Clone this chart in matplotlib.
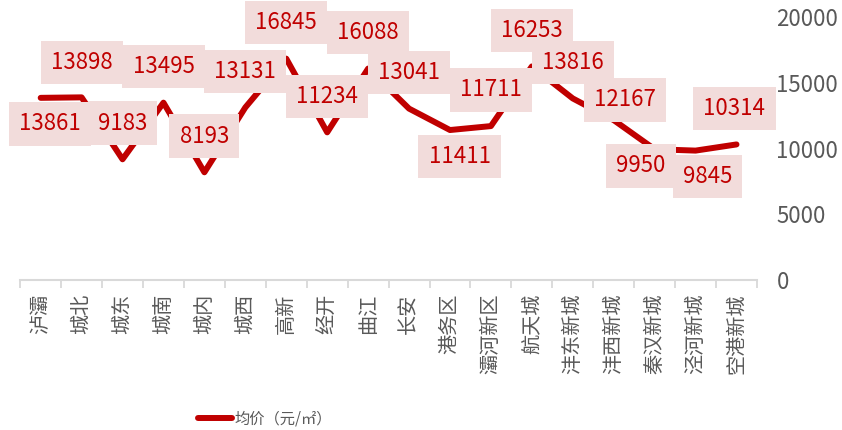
import matplotlib
matplotlib.use("Agg")
import matplotlib.pyplot as plt
from matplotlib.ticker import FixedLocator

plt.rcParams['font.family'] = ['Noto Sans CJK SC', 'DejaVu Sans']

# data
districts = ["泸灞", "城北", "城东", "城南", "城内", "城西", "高新", "经开", "曲江",
             "长安", "港务区", "灞河新区", "航天城", "沣东新城", "沣西新城", "秦汉新城",
             "泾河新城", "空港新城"]
avg_price = [13861, 13898, 9183, 13495, 8193, 13131, 16845, 11234, 16088,
             13041, 11411, 11711, 16253, 13816, 12167, 9950, 9845, 10314]
series_name = "均价（元/㎡）"
y_ticks = [0, 5000, 10000, 15000, 20000]

# label offsets (points) relative to each point
up = (0, 26)
label_offsets = [(6.5, -18.7), (0, 25), up, up, up, up, up, up, up, up,
                 (7, -19), up, up, up, (8, 14.5), (-10, -12), (8.6, -18.7), (-1.5, 26)]

red = "#C00000"
gray = "#595959"

fig = plt.figure(figsize=(8.42, 4.30), dpi=100)
ax = fig.add_axes([0.024, 0.349, 0.875, 0.611])

x = list(range(len(districts)))
line, = ax.plot(x, avg_price, color=red, lw=4.3, solid_joinstyle='round',
                solid_capstyle='round', label=series_name, zorder=2)

for xi, v, off in zip(x, avg_price, label_offsets):
    ax.annotate(str(v), (xi, v), xytext=off, textcoords='offset points',
                ha='center', va='center', fontsize=16, color=red, zorder=3,
                bbox=dict(boxstyle='square,pad=0.46', fc='#F2DCDB', ec='none'))

ax.set_xlim(-0.5, len(districts) - 0.5)
ax.set_ylim(0, 20000)
ax.set_yticks(y_ticks)
ax.yaxis.tick_right()
ax.tick_params(axis='y', length=0, labelsize=16, labelcolor=gray, pad=14)

ax.set_xticks(x)
ax.set_xticklabels(districts, rotation=90, fontsize=14.5, color=gray)
ax.tick_params(axis='x', which='major', length=0, pad=10)
ax.xaxis.set_minor_locator(FixedLocator([i - 0.5 for i in range(len(districts) + 1)]))
ax.tick_params(axis='x', which='minor', length=6, width=1.3, color='#D9D9D9')

for s in ['top', 'right', 'left']:
    ax.spines[s].set_visible(False)
ax.spines['bottom'].set_color('#D9D9D9')
ax.spines['bottom'].set_linewidth(1.5)

fig.legend(handles=[line], loc='center', bbox_to_anchor=(0.315, 0.026), frameon=False,
           fontsize=11, labelcolor=gray, handlelength=2.2, handletextpad=0.2)

fig.savefig("out.png", dpi=100)
